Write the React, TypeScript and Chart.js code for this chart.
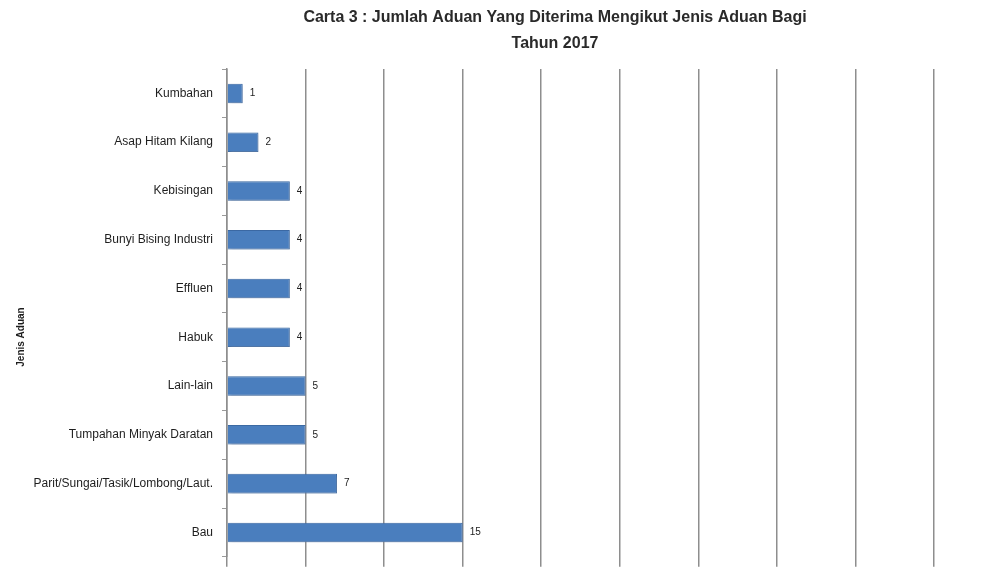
import React, { useEffect, useRef } from "react";
import { Chart, registerables } from "chart.js";

Chart.register(...registerables);

const titleLines = [
  "Carta 3 : Jumlah Aduan Yang Diterima Mengikut Jenis Aduan Bagi",
  "Tahun 2017",
];
const categories = [
  "Kumbahan",
  "Asap Hitam Kilang",
  "Kebisingan",
  "Bunyi Bising Industri",
  "Effluen",
  "Habuk",
  "Lain-lain",
  "Tumpahan Minyak Daratan",
  "Parit/Sungai/Tasik/Lombong/Laut.",
  "Bau",
];
const values = [1, 2, 4, 4, 4, 4, 5, 5, 7, 15];
const yAxisTitle = "Jenis Aduan";
const xMax = 45;
const xStep = 5;

const FONT = "'Liberation Sans', Arial, sans-serif";

const titlePlugin = {
  id: "customTitle",
  afterDraw(chart: any) {
    const ctx = chart.ctx;
    ctx.save();
    ctx.fillStyle = "#2a2a2a";
    ctx.font = `bold 16px ${FONT}`;
    ctx.textAlign = "center";
    ctx.textBaseline = "middle";
    ctx.fillText(titleLines[0], 547, 10);
    ctx.fillText(titleLines[1], 547, 36);
    // y-axis title
    ctx.save();
    ctx.translate(13, 329);
    ctx.rotate(-Math.PI / 2);
    ctx.font = `bold 10px ${FONT}`;
    ctx.fillStyle = "#1e1e1e";
    ctx.fillText(yAxisTitle, 0, 0);
    ctx.restore();
    ctx.restore();
  },
};

const valueLabelPlugin = {
  id: "valueLabels",
  afterDatasetsDraw(chart: any) {
    const ctx = chart.ctx;
    const meta = chart.getDatasetMeta(0);
    ctx.save();
    ctx.fillStyle = "#222";
    ctx.font = `10px ${FONT}`;
    ctx.textAlign = "left";
    ctx.textBaseline = "middle";
    meta.data.forEach((bar: any, i: number) => {
      ctx.fillText(String(values[i]), bar.x + 7, bar.y);
    });
    ctx.restore();
  },
};

const shadowPlugin = {
  id: "barShadow",
  beforeDatasetsDraw(chart: any) {
    const ctx = chart.ctx;
    ctx.save();
    ctx.shadowColor = "rgba(120,140,170,0.55)";
    ctx.shadowBlur = 3;
    ctx.shadowOffsetX = 2;
    ctx.shadowOffsetY = 2;
  },
  afterDatasetsDraw(chart: any) {
    chart.ctx.restore();
  },
};

export default function App() {
  const ref = useRef<HTMLCanvasElement | null>(null);

  useEffect(() => {
    if (!ref.current) return;
    const chart = new Chart(ref.current, {
      type: "bar",
      data: {
        labels: categories,
        datasets: [
          {
            data: values,
            backgroundColor: "#4a7ebe",
            borderColor: "#3b69a3",
            borderWidth: 1,
            categoryPercentage: 1,
            barPercentage: 0.4,
          },
        ],
      },
      options: {
        indexAxis: "y",
        responsive: false,
        animation: false,
        layout: { padding: { top: 61, right: 64, bottom: 0, left: 0 } },
        plugins: {
          legend: { display: false },
          title: { display: false },
          tooltip: { enabled: false },
        },
        scales: {
          x: {
            min: 0,
            max: xMax,
            ticks: { display: false, stepSize: xStep },
            grid: {
              color: "#8e8e8e",
              lineWidth: 1.5,
              tickLength: 10,
              drawTicks: true,
            },
            border: { display: false },
          },
          y: {
            afterFit(scale: any) {
              scale.width = 219;
            },
            ticks: {
              color: "#1e1e1e",
              font: { family: FONT, size: 12 },
              padding: 9,
            },
            grid: {
              drawOnChartArea: false,
              drawTicks: true,
              tickLength: 5,
              color: "#9a9a9a",
              offset: true,
            },
            border: { display: true, color: "#8e8e8e", width: 1.5 },
          },
        },
      },
      plugins: [titlePlugin, shadowPlugin, valueLabelPlugin],
    } as any);
    return () => chart.destroy();
  }, []);

  return <canvas ref={ref} width={990} height={565} style={{ display: "block" }} />;
}
